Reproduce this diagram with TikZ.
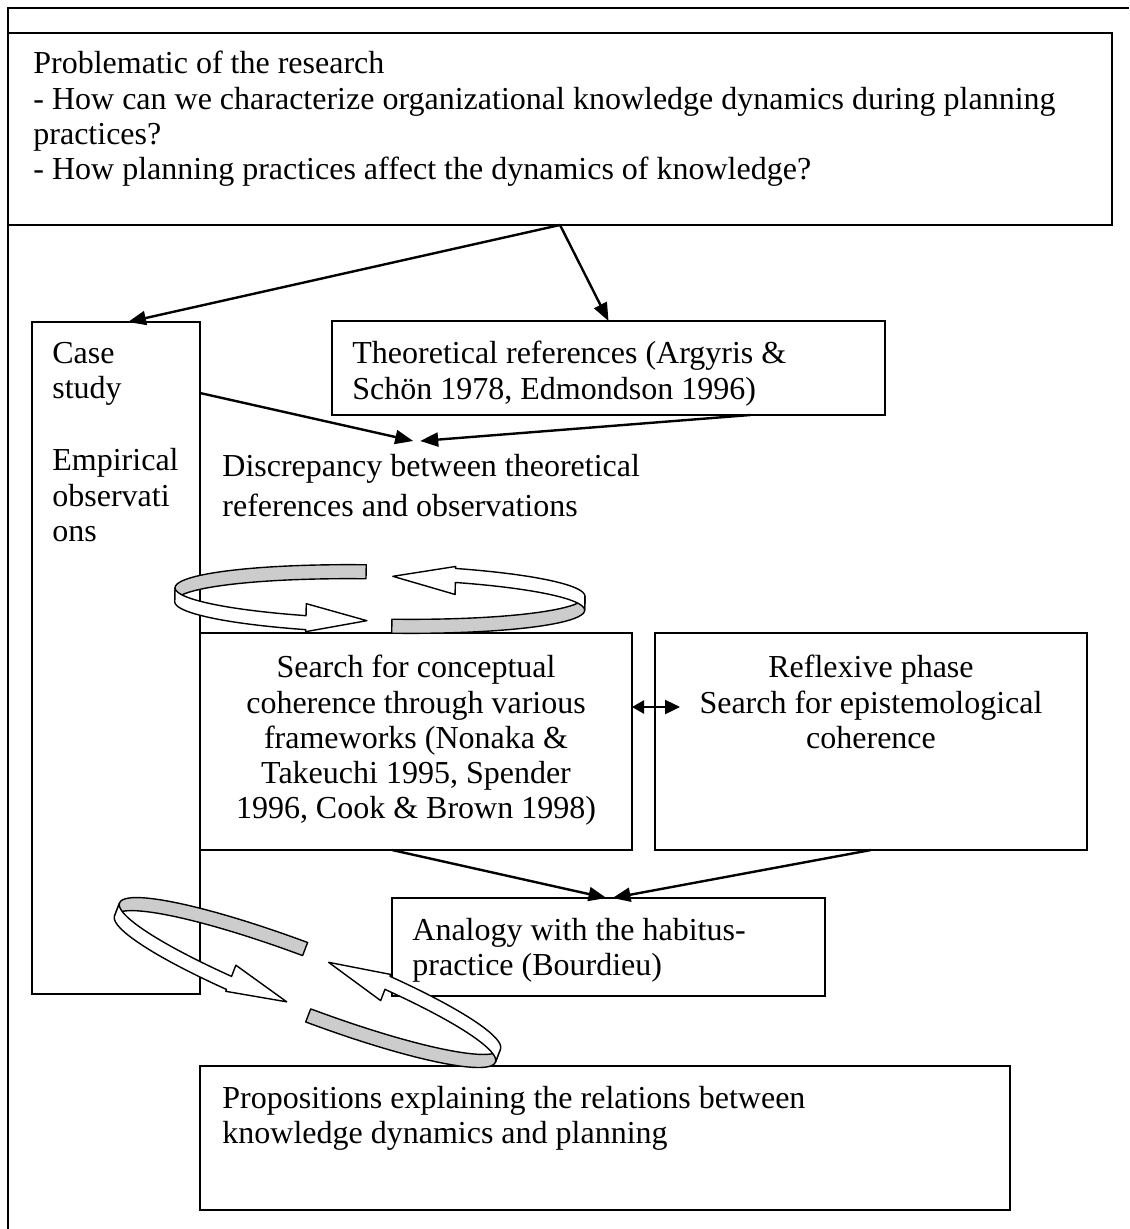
\documentclass[tikz,border=0pt]{standalone}
\usepackage{fontspec}
\setmainfont{Liberation Serif}
\usetikzlibrary{arrows.meta}

% twisted ring of two half arrows: #1 centre, #2 tilt, #3 half length, #4 half depth
\newcommand{\ringarrows}[4]{%
  \begin{scope}[shift={#1}, rotate=#2]
    \def\ra{#3}\def\rb{#4}\def\rh{14}
    % left arrow: tail seen from inside, then front part with its head
    \filldraw[ribbon, fill=gray!40] plot[domain=-94:-180] ({\ra*cos(\x)},{\rb*sin(\x)})
      -- plot[domain=-180:-94] ({\ra*cos(\x)},{\rb*sin(\x)+\rh}) -- cycle;
    \filldraw[ribbon, fill=white] plot[domain=180:111] ({\ra*cos(\x)},{\rb*sin(\x)})
      -- ++(0,-12) -- ({\ra*cos(93.5)},{\rb*sin(93.5)+2})
      -- ({\ra*cos(111)},{\rb*sin(111)+\rh+2})
      -- plot[domain=111:180] ({\ra*cos(\x)},{\rb*sin(\x)+\rh}) -- cycle;
    % right arrow: tail in front, head running along the back
    \filldraw[ribbon, fill=gray!40] plot[domain=86.5:0] ({\ra*cos(\x)},{\rb*sin(\x)})
      -- plot[domain=0:86.5] ({\ra*cos(\x)},{\rb*sin(\x)+\rh}) -- cycle;
    \filldraw[ribbon, fill=white] plot[domain=0:-68.5] ({\ra*cos(\x)},{\rb*sin(\x)})
      -- ++(0,-2) -- ({\ra*cos(-86.5)},{\rb*sin(-86.5)+11})
      -- ({\ra*cos(-68.5)},{\rb*sin(-68.5)+\rh+12})
      -- plot[domain=-68.5:0] ({\ra*cos(\x)},{\rb*sin(\x)+\rh}) -- cycle;
  \end{scope}}

\begin{document}
\begin{tikzpicture}[x=0.5pt, y=-0.5pt,
  every node/.style={font=\fontsize{16}{17.6}\selectfont},
  panel/.style={draw, line width=0.9pt, inner sep=0pt, outer sep=0pt, anchor=north west},
  txt/.style={anchor=north west, align=left, inner sep=0pt},
  txtc/.style={anchor=north, align=center, inner sep=0pt},
  link/.style={line width=1.2pt, -{Triangle[length=9pt,width=7pt]}},
  frame/.style={line width=1.3pt},
  ribbon/.style={line width=0.7pt, line join=round}]
  \useasboundingbox (0,0) rectangle (1129,1229);
  \draw[frame] (8,1229) -- (8,8) -- (1129,8);

  % boxes
  \node[panel, minimum width=552pt, minimum height=96pt] (prob) at (8,33) {};
  \node[panel, minimum width=84pt, minimum height=336pt] (case) at (32,322) {};
  \node[panel, minimum width=276.5pt, minimum height=47pt] (theory) at (332,321) {};
  \node[panel, minimum width=216pt, minimum height=108.5pt] (search) at (200,633) {};
  \node[panel, minimum width=216pt, minimum height=108.5pt] (reflex) at (655,633) {};
  \node[panel, minimum width=216.5pt, minimum height=49pt] (analogy) at (392,898) {};
  \node[panel, minimum width=405pt, minimum height=72pt] (props) at (200,1066) {};

  % texts
  \node[txt] (probtext) at ([xshift=12.5pt,yshift=-9pt]prob.north west)
    {Problematic of the research\\- How can we characterize organizational knowledge dynamics during planning\\practices?\\- How planning practices affect the dynamics of knowledge?};
  \node[txt] (casetext) at ([xshift=10pt,yshift=-10pt]case.north west)
    {Case\\study\\[18.5pt]Empirical\\observati\\ons};
  \node[txt] (theorytext) at ([xshift=10pt,yshift=-10pt]theory.north west)
    {Theoretical references (Argyris \&\\Schön 1978, Edmondson 1996)};
  \node[txt] (disc) at (222,454)
    {Discrepancy between theoretical\\[2.5pt]references and observations};
  \node[txtc] (searchtext) at ([yshift=-11pt]search.north)
    {Search for conceptual\\coherence through various\\frameworks (Nonaka \&\\Takeuchi 1995, Spender\\1996, Cook \& Brown 1998)};
  \node[txtc] (reflextext) at ([yshift=-11pt]reflex.north)
    {Reflexive phase\\Search for epistemological\\coherence};
  \node[txt] (analogytext) at ([xshift=10pt,yshift=-10pt]analogy.north west)
    {Analogy with the habitus-\\practice (Bourdieu)};
  \node[txt] (propstext) at ([xshift=11pt,yshift=-10pt]props.north west)
    {Propositions explaining the relations between\\knowledge dynamics and planning};

  % connectors
  \draw[link] (prob.south) -- ([xshift=6pt]case.north);
  \draw[link] (prob.south) -- (theory.north);
  \draw[link] ([yshift=-35.5pt]case.north east) -- ([xshift=-9pt,yshift=6.5pt]disc.north);
  \draw[link] ([xshift=71pt]theory.south) -- ([xshift=-5.5pt,yshift=6.5pt]disc.north);
  \draw[link, {Triangle[length=6pt,width=6.5pt]}-{Triangle[length=7.5pt,width=7pt]}]
    ([yshift=17.25pt]search.east) -- ([xshift=12.5pt,yshift=17.25pt]reflex.west);
  \draw[link] ([xshift=-12pt]search.south) -- ([xshift=-1pt]analogy.north);
  \draw[link] (reflex.south) -- ([xshift=2pt]analogy.north);

  % the two loops
  \ringarrows{(380,592)}{-1.2}{205}{27}
  \ringarrows{(310,976)}{-21}{204}{30.5}
\end{tikzpicture}
\end{document}
